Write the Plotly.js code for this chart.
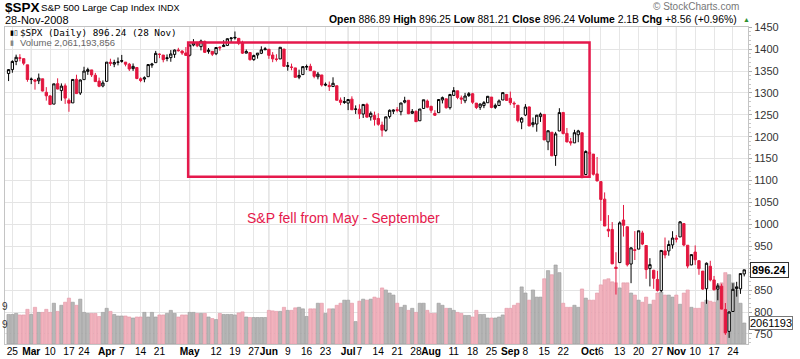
<!DOCTYPE html>
<html>
<head>
<meta charset="utf-8">
<script src="https://cdn.plot.ly/plotly-3.0.1.min.js"></script>
<style>html,body{margin:0;padding:0;background:#fff;}#chart{width:800px;height:359px;}</style>
</head>
<body>
<div id="chart"></div>
<script>
// ---- data (2008) ----
const dates = [
'02-22','02-25','02-26','02-27','02-28','02-29',
'03-03','03-04','03-05','03-06','03-07','03-10','03-11','03-12','03-13','03-14','03-17','03-18','03-19','03-20','03-24','03-25','03-26','03-27','03-28','03-31',
'04-01','04-02','04-03','04-04','04-07','04-08','04-09','04-10','04-11','04-14','04-15','04-16','04-17','04-18','04-21','04-22','04-23','04-24','04-25','04-28','04-29','04-30',
'05-01','05-02','05-05','05-06','05-07','05-08','05-09','05-12','05-13','05-14','05-15','05-16','05-19','05-20','05-21','05-22','05-23','05-27','05-28','05-29','05-30',
'06-02','06-03','06-04','06-05','06-06','06-09','06-10','06-11','06-12','06-13','06-16','06-17','06-18','06-19','06-20','06-23','06-24','06-25','06-26','06-27','06-30',
'07-01','07-02','07-03','07-07','07-08','07-09','07-10','07-11','07-14','07-15','07-16','07-17','07-18','07-21','07-22','07-23','07-24','07-25','07-28','07-29','07-30','07-31',
'08-01','08-04','08-05','08-06','08-07','08-08','08-11','08-12','08-13','08-14','08-15','08-18','08-19','08-20','08-21','08-22','08-25','08-26','08-27','08-28','08-29',
'09-02','09-03','09-04','09-05','09-08','09-09','09-10','09-11','09-12','09-15','09-16','09-17','09-18','09-19','09-22','09-23','09-24','09-25','09-26','09-29','09-30',
'10-01','10-02','10-03','10-06','10-07','10-08','10-09','10-10','10-13','10-14','10-15','10-16','10-17','10-20','10-21','10-22','10-23','10-24','10-27','10-28','10-29','10-30','10-31',
'11-03','11-04','11-05','11-06','11-07','11-10','11-11','11-12','11-13','11-14','11-17','11-18','11-19','11-20','11-21','11-24','11-25','11-26','11-28'];

const opens = [
1344.2,1353.1,1371.8,1378.9,1378.2,1364.1,
1330.5,1329.6,1327.7,1332.2,1301.5,1293.2,1274.4,1321.1,1305.3,1316.1,1283.2,1277.2,1331.0,1299.7,1330.3,1349.1,1352.5,1340.3,1327.0,1315.9,
1326.4,1370.0,1365.7,1369.9,1373.7,1370.2,1365.5,1355.4,1358.0,1332.2,1331.7,1337.0,1363.4,1369.0,1387.7,1386.4,1378.4,1380.5,1387.9,1398.0,1395.6,1391.2,
1386.0,1409.2,1415.3,1405.6,1417.5,1394.3,1394.9,1389.4,1404.4,1405.7,1408.4,1423.9,1425.3,1424.5,1414.1,1390.8,1392.2,1376.0,1386.5,1390.5,1398.4,
1399.6,1386.4,1376.3,1377.5,1400.1,1360.8,1359.0,1357.1,1335.8,1341.8,1358.9,1360.7,1349.6,1336.9,1341.0,1319.8,1317.2,1314.5,1316.3,1283.6,1278.1,
1276.7,1285.8,1263.0,1262.9,1251.8,1273.4,1245.3,1248.7,1241.6,1226.8,1214.7,1246.3,1258.2,1261.8,1257.1,1278.9,1283.2,1253.5,1257.8,1236.4,1264.5,1281.4,
1269.4,1253.3,1254.9,1284.0,1286.5,1266.3,1294.4,1304.8,1288.6,1282.1,1293.9,1298.1,1276.7,1267.3,1271.1,1277.6,1290.5,1267.0,1271.3,1283.8,1296.5,
1287.8,1276.6,1271.8,1233.2,1249.5,1268.0,1227.5,1229.0,1245.9,1250.9,1188.3,1210.3,1157.1,1213.1,1255.4,1207.6,1188.8,1186.0,1204.5,1209.1,1113.8,
1164.2,1160.4,1115.2,1097.6,1057.6,988.9,988.4,902.3,912.8,1010.0,994.6,909.5,942.3,943.5,980.4,951.7,899.1,895.2,874.3,848.9,939.5,939.4,953.1,
968.7,971.3,1001.8,952.4,907.4,936.8,917.2,893.4,853.1,904.4,873.2,852.3,859.0,805.9,755.8,801.2,853.4,852.9,886.9];

const highs = [
1354.3,1374.4,1387.3,1388.3,1378.2,1364.1,
1335.1,1331.0,1344.2,1332.2,1313.2,1295.0,1320.7,1333.3,1321.7,1321.5,1287.5,1330.7,1341.5,1330.7,1359.7,1357.5,1352.5,1345.6,1334.9,1328.5,
1370.2,1378.0,1375.7,1380.9,1386.7,1370.2,1368.4,1367.2,1358.0,1335.6,1337.7,1365.5,1368.6,1395.9,1390.2,1386.4,1387.9,1397.7,1399.1,1402.9,1397.0,1404.6,
1410.1,1422.7,1415.3,1421.6,1419.5,1402.4,1394.9,1404.1,1406.3,1420.2,1424.4,1425.8,1440.2,1424.5,1419.1,1399.1,1392.2,1387.4,1391.0,1406.3,1404.5,
1399.6,1393.1,1388.2,1404.1,1400.1,1370.6,1366.8,1357.1,1353.0,1360.0,1364.7,1366.6,1349.6,1347.7,1341.0,1323.8,1326.0,1335.6,1316.3,1289.5,1290.7,
1285.3,1292.2,1271.5,1274.0,1274.2,1277.4,1257.7,1257.3,1253.5,1234.4,1245.5,1262.3,1262.2,1267.7,1277.4,1291.2,1283.2,1263.2,1260.1,1263.2,1284.3,1284.9,
1270.5,1260.5,1284.9,1291.7,1286.5,1297.9,1313.2,1304.8,1294.0,1300.1,1302.1,1300.2,1276.7,1276.0,1281.4,1293.1,1290.5,1275.7,1285.1,1300.7,1297.6,
1303.0,1280.6,1271.8,1244.9,1274.4,1268.7,1243.9,1250.0,1255.1,1250.9,1214.8,1210.3,1211.1,1265.1,1255.4,1220.0,1197.4,1215.8,1215.8,1209.1,1169.0,
1167.0,1160.4,1153.8,1097.6,1072.9,1021.1,1005.3,936.4,1006.9,1044.3,994.6,947.7,984.6,985.4,985.4,951.7,922.8,896.3,893.8,940.5,970.0,963.2,984.4,
975.6,1007.5,1001.8,952.4,931.5,952.0,917.2,893.4,913.0,916.9,882.3,865.9,864.6,820.5,801.2,865.6,868.9,887.7,896.3];

const lows = [
1327.0,1346.0,1363.3,1372.0,1363.2,1325.4,
1320.0,1307.4,1320.2,1303.4,1282.4,1272.7,1274.4,1307.9,1282.1,1274.9,1257.0,1277.2,1298.4,1295.2,1330.3,1341.2,1336.4,1325.7,1313.0,1312.8,
1326.4,1361.6,1358.7,1362.8,1369.0,1360.6,1350.0,1350.1,1331.2,1324.4,1324.3,1337.0,1357.3,1369.0,1379.3,1369.8,1372.2,1371.1,1380.0,1394.4,1386.7,1384.3,
1383.1,1406.2,1404.4,1397.1,1391.2,1389.4,1384.1,1386.2,1396.3,1405.7,1406.9,1414.4,1421.6,1409.1,1388.8,1390.2,1373.7,1373.1,1378.2,1388.6,1398.1,
1377.8,1370.1,1371.7,1377.5,1359.9,1350.7,1351.6,1335.5,1331.3,1341.7,1352.1,1350.5,1333.4,1330.9,1314.5,1315.3,1304.4,1314.5,1283.2,1272.0,1274.9,
1260.7,1261.5,1252.0,1240.7,1242.8,1244.6,1236.8,1225.4,1225.0,1200.4,1211.4,1241.5,1251.8,1255.7,1248.8,1276.1,1251.5,1251.8,1234.4,1236.4,1264.5,1265.1,
1254.5,1247.5,1254.9,1276.0,1264.3,1262.1,1292.8,1285.6,1274.9,1276.6,1290.7,1274.5,1263.1,1261.2,1265.2,1277.6,1264.9,1263.2,1270.0,1283.8,1282.7,
1272.2,1265.6,1232.8,1217.2,1247.1,1224.5,1221.6,1211.5,1233.8,1192.7,1169.3,1155.9,1133.5,1213.1,1205.6,1187.1,1179.8,1186.0,1187.5,1106.4,1113.8,
1140.8,1111.4,1098.1,1008.0,996.2,971.0,909.2,839.8,912.8,972.1,904.0,865.8,918.7,943.5,952.5,875.8,858.4,852.9,846.8,845.3,922.3,928.5,944.6,
958.8,971.3,949.9,899.7,906.9,907.5,884.9,850.5,818.7,869.9,849.0,826.8,806.2,747.8,741.0,801.2,835.0,841.4,881.2];

const closes = [
1353.1,1371.8,1381.3,1380.0,1367.7,1330.6,
1331.3,1326.8,1333.7,1304.3,1293.4,1273.4,1320.7,1308.8,1315.5,1288.1,1276.6,1330.7,1298.4,1329.5,1349.9,1353.0,1341.1,1325.8,1315.2,1322.7,
1370.2,1367.5,1369.3,1370.4,1372.5,1365.5,1354.5,1360.6,1332.8,1328.3,1334.4,1364.7,1365.6,1390.3,1388.2,1375.9,1379.9,1388.8,1397.8,1396.4,1390.9,1385.6,
1409.3,1413.9,1407.5,1418.3,1392.6,1397.7,1388.3,1403.6,1403.0,1408.7,1423.6,1425.4,1426.6,1413.4,1390.7,1394.4,1375.9,1385.4,1390.8,1398.3,1400.4,
1385.7,1377.7,1377.2,1404.1,1360.7,1361.8,1358.4,1335.5,1339.9,1360.0,1360.1,1350.9,1337.8,1342.8,1317.9,1318.0,1314.3,1322.0,1283.2,1278.4,1280.0,
1284.9,1261.5,1262.9,1252.3,1273.7,1244.7,1253.4,1239.5,1228.3,1214.9,1245.4,1260.3,1260.7,1260.0,1277.0,1282.2,1252.5,1257.8,1234.4,1263.2,1284.3,1267.4,
1260.3,1249.0,1284.9,1289.2,1266.1,1296.3,1305.3,1289.6,1285.8,1292.9,1298.2,1278.6,1266.7,1274.5,1277.7,1292.2,1266.8,1271.5,1281.7,1300.7,1282.8,
1277.6,1275.0,1236.8,1242.3,1267.8,1224.5,1232.0,1249.1,1251.7,1192.7,1213.6,1156.4,1206.5,1255.1,1207.1,1188.2,1185.9,1209.2,1213.3,1106.4,1166.4,
1161.1,1114.3,1099.2,1056.9,996.2,984.9,909.9,899.2,1003.4,998.0,907.8,946.4,940.6,985.4,955.1,896.8,908.1,876.8,848.9,940.5,930.1,954.1,968.8,
966.3,1005.8,952.8,904.9,931.0,919.2,899.0,852.3,911.3,873.3,850.8,859.1,806.6,752.4,800.0,851.8,857.4,887.7,896.24];

// volume in billions of shares
const volumes = [
2.9,2.9,3.0,2.85,2.85,3.4,
2.9,3.6,3.1,3.1,3.4,3.1,4.0,3.2,3.8,4.1,4.5,4.1,3.8,4.4,3.1,3.0,3.0,3.0,2.7,3.1,
3.5,3.2,2.9,2.75,2.75,2.75,2.65,2.55,2.65,2.65,3.1,2.65,3.1,2.65,2.85,2.85,3.0,3.3,3.0,2.65,2.85,2.85,
3.1,3.1,3.0,3.0,3.0,2.65,2.5,2.4,3.0,2.9,2.9,2.9,2.85,3.05,3.15,2.65,2.6,2.6,2.6,2.6,2.6,
3.3,3.25,3.2,3.2,3.6,3.3,3.3,3.55,3.6,3.45,2.7,3.45,3.45,4.0,4.0,3.0,3.45,3.45,3.8,4.0,4.3,
4.3,4.0,2.2,4.2,4.4,4.3,4.4,4.6,4.5,5.5,5.3,5.0,4.8,4.0,3.6,3.8,3.3,3.5,3.1,4.0,4.0,3.3,
3.0,3.0,4.0,3.8,3.5,3.5,3.3,3.1,3.0,2.8,2.8,2.65,3.3,2.9,2.9,2.55,2.55,2.55,2.65,2.85,3.5,
3.5,3.8,4.0,5.6,5.0,4.3,5.3,4.6,4.6,6.4,7.2,6.8,7.75,7.0,4.0,3.6,3.6,3.8,3.6,5.4,4.5,
4.3,4.3,5.0,5.8,6.3,6.4,6.1,6.0,5.5,6.0,6.0,5.0,4.8,4.3,4.1,4.6,3.9,4.3,5.0,5.1,4.8,4.8,4.6,
4.8,3.9,5.0,5.3,3.6,3.5,3.5,4.1,4.3,4.2,4.1,5.8,6.0,7.0,6.8,6.0,5.3,4.0,2.061193856];

const tickDates  = ['02-25','03-03','03-10','03-17','03-24','04-01','04-07','04-14','04-21','05-01','05-12','05-19','05-27','06-02','06-09','06-16','06-23','07-01','07-07','07-14','07-21','07-28','08-01','08-11','08-18','08-25','09-02','09-08','09-15','09-22','10-01','10-06','10-13','10-20','10-27','11-03','11-10','11-17','11-24'];
const tickLabels = ['25','Mar','10','17','24','Apr','7','14','21','May','12','19','27','Jun','9','16','23','Jul','7','14','21','28','Aug','11','18','25','Sep','8','15','22','Oct','6','13','20','27','Nov','10','17','24'];
const monthNames = ['Mar','Apr','May','Jun','Jul','Aug','Sep','Oct','Nov'];
const priceTicks = [750,800,850,900,950,1000,1050,1100,1150,1200,1250,1300,1350,1400,1450];

// highlighted period (drawn box) and its caption
const boxFrom = '05-01', boxTo = '10-01', boxLow = 1108.5, boxHigh = 1415;
const caption = 'S&P fell from May - September';

// ---- build ----
const RED = '#e3173f';
const BOXRED = '#e5194c';
const idx = dates.map((d, i) => i);
const upDay = closes.map((c, i) => i === 0 ? true : c >= closes[i - 1]);
const sel = (arr, keep) => arr.filter((_, i) => keep(i));
const isUp = i => upDay[i];
const isDn = i => !upDay[i];
const lastClose = closes[closes.length - 1];
const lastVol = volumes[volumes.length - 1];

const tickVals = tickDates.map(d => dates.indexOf(d));
const tickText = tickLabels.map(t => monthNames.includes(t) ? '<b>' + t + '</b>' : t);
// the price tag hides the tick label it sits on
const priceText = priceTicks.map(v => Math.abs(v - lastClose) < 15 ? '' : String(v));

const volTrace = {
  type: 'bar', x: idx, y: volumes, xaxis: 'x', yaxis: 'y',
  width: 0.86,
  marker: {
    color: upDay.map(u => u ? '#b7b7b7' : '#f2b3be'),
    line: { color: upDay.map(u => u ? '#999999' : '#e397a6'), width: 0.6 }
  },
  hoverinfo: 'skip', showlegend: false
};

function candle(keep, col) {
  return {
    type: 'candlestick', xaxis: 'x', yaxis: 'y2',
    x: sel(idx, keep), open: sel(opens, keep), high: sel(highs, keep),
    low: sel(lows, keep), close: sel(closes, keep),
    increasing: { line: { color: col, width: 1 }, fillcolor: '#ffffff' },
    decreasing: { line: { color: col, width: 1 }, fillcolor: col },
    whiskerwidth: 0, showlegend: false, hoverinfo: 'skip'
  };
}

const L = 5, R = 52, T = 27, B = 15, W = 800, H = 359;
const pw = W - L - R, ph = H - T - B;
const px = x => (x - L) / pw;
const py = y => (H - B - y) / ph;

const monthShapes = tickLabels.map((t, k) => monthNames.includes(t) ? {
  type: 'line', xref: 'x', yref: 'paper', x0: tickVals[k], x1: tickVals[k], y0: 0, y1: 1,
  line: { color: '#cdcdcd', width: 1 }, layer: 'below'
} : null).filter(s => s);

const F = 'Arial, "Liberation Sans", sans-serif';
const ann = (o) => Object.assign({ showarrow: false, xref: 'paper', yref: 'paper' }, o);

const layout = {
  width: W, height: H,
  margin: { l: L, r: R, t: T, b: B, pad: 0 },
  paper_bgcolor: '#ffffff', plot_bgcolor: '#ffffff',
  font: { family: F, size: 11, color: '#000' },
  showlegend: false,
  dragmode: false,
  boxgap: 0.12,
  xaxis: {
    range: [-0.95, 196.0], tickmode: 'array', tickvals: tickVals, ticktext: tickText,
    tickangle: 0, automargin: false,
    showgrid: true, gridcolor: '#e6e6e6', gridwidth: 1,
    showline: true, mirror: true, linecolor: '#c4c4c4', linewidth: 1,
    ticks: '', ticklabelstandoff: -2, zeroline: false, tickfont: { family: F, size: 10.2, color: '#000' },
    rangeslider: { visible: false }, fixedrange: true
  },
  yaxis: { range: [0, 31.1], visible: false, fixedrange: true },
  yaxis2: {
    overlaying: 'y', side: 'right', anchor: 'x',
    range: [727, 1450.4], tickmode: 'array', tickvals: priceTicks, ticktext: priceText,
    showgrid: true, gridcolor: '#e4e4e4', zeroline: false,
    showline: true, mirror: true, linecolor: '#c4c4c4',
    ticks: 'outside', ticklen: 3, tickcolor: '#aaaaaa',
    minor: { dtick: 10, ticks: 'outside', ticklen: 2, tickcolor: '#c8c8c8', showgrid: false },
    tickfont: { family: F, size: 11, color: '#333' }, fixedrange: true
  },
  shapes: monthShapes.concat([{
    type: 'rect', xref: 'x', yref: 'y2',
    x0: dates.indexOf(boxFrom) - 0.4, x1: dates.indexOf(boxTo), y0: boxLow, y1: boxHigh,
    line: { color: BOXRED, width: 2.5 }, fillcolor: 'rgba(0,0,0,0)', layer: 'above'
  }]),
  annotations: [
    ann({ x: px(3), y: py(8), xanchor: 'left', yanchor: 'middle', text: '<b>$SPX</b>', font: { family: F, size: 13.5, color: '#000' } }),
    ann({ x: px(39), y: py(8), xanchor: 'left', yanchor: 'middle', text: 'S&P 500 Large Cap Index', font: { family: F, size: 9.8, color: '#000' } }),
    ann({ x: px(156), y: py(8), xanchor: 'left', yanchor: 'middle', text: 'INDX', font: { family: F, size: 9, color: '#000' } }),
    ann({ x: px(3), y: py(20), xanchor: 'left', yanchor: 'middle', text: '28-Nov-2008', font: { family: F, size: 11, color: '#000' } }),
    ann({ x: px(739), y: py(20), xanchor: 'right', yanchor: 'middle',
      text: '<b>Open</b> 886.89 <b>High</b> 896.25 <b>Low</b> 881.21 <b>Close</b> 896.24 <b>Volume</b> 2.1B <b>Chg</b> +8.56 (+0.96%)',
      font: { family: F, size: 10.4, color: '#000' } }),
    ann({ x: px(741), y: py(20), xanchor: 'left', yanchor: 'middle', text: '▲', font: { family: F, size: 7, color: '#2f8f2f' } }),
    ann({ x: px(741), y: py(7), xanchor: 'right', yanchor: 'middle', text: '© StockCharts.com', font: { family: F, size: 10, color: '#777' } }),
    ann({ x: px(8), y: py(32), xanchor: 'left', yanchor: 'middle', text: '▮▯', font: { family: F, size: 7, color: '#000' } }),
    ann({ x: px(18), y: py(32.5), xanchor: 'left', yanchor: 'middle', text: '$SPX (Daily) 896.24 (28 Nov)', font: { family: '"DejaVu Sans Mono", monospace', size: 9.3, color: '#000' } }),
    ann({ x: px(8), y: py(42), xanchor: 'left', yanchor: 'middle', text: '▮', font: { family: F, size: 7, color: '#888' } }),
    ann({ x: px(18), y: py(42), xanchor: 'left', yanchor: 'middle', text: 'Volume 2,061,193,856', font: { family: F, size: 9.5, color: '#666' } }),
    ann({ x: px(245), y: py(218), xanchor: 'left', yanchor: 'middle', text: caption, font: { family: F, size: 14, color: BOXRED } }),
    ann({ x: px(750), y: lastClose, yref: 'y2', xanchor: 'left', yanchor: 'middle',
      text: '<b>' + lastClose.toFixed(2) + '</b>', font: { family: F, size: 11, color: '#000' },
      bgcolor: '#ffffff', bordercolor: '#333', borderwidth: 1, borderpad: 1 }),
    ann({ x: px(749), y: lastVol, yref: 'y', xanchor: 'left', yanchor: 'middle',
      text: String(Math.floor(lastVol * 1e6)), font: { family: F, size: 11, color: '#000' },
      bgcolor: '#ffffff', bordercolor: '#777', borderwidth: 1, borderpad: 0 }),
    ann({ x: px(0), y: py(306), xanchor: 'left', yanchor: 'middle', text: '9', font: { family: F, size: 10, color: '#333' } }),
    ann({ x: px(0), y: py(324), xanchor: 'left', yanchor: 'middle', text: '9', font: { family: F, size: 10, color: '#333' } })
  ]
};

Plotly.newPlot('chart', [volTrace, candle(isUp, '#000000'), candle(isDn, RED)], layout, { displayModeBar: false, staticPlot: true });
</script>
</body>
</html>
